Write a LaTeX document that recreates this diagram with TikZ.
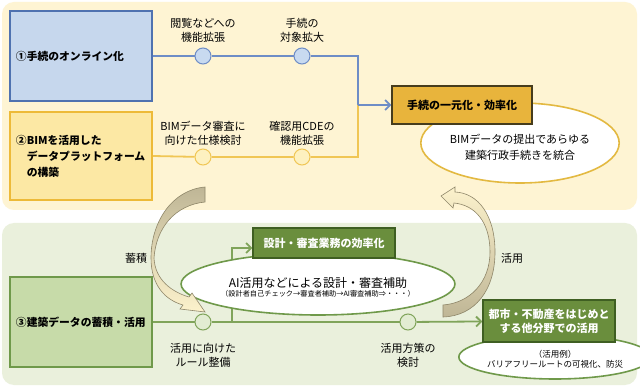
\documentclass[tikz,border=0pt]{standalone}
\usepackage{fontspec}
\setmainfont{Noto Sans CJK JP}
\usetikzlibrary{shapes.geometric,arrows.meta}
\pgfdeclarelayer{back}
\pgfdeclarelayer{wires}
\pgfsetlayers{back,wires,main}

\definecolor{panelY}{HTML}{FEF4D3}
\definecolor{panelG}{HTML}{EAF0DC}
\definecolor{bluefill}{HTML}{C6D7ED}
\definecolor{blueedge}{HTML}{4F72B0}
\definecolor{blueline}{HTML}{6E8DC6}
\definecolor{bluedot}{HTML}{C8DAF0}
\definecolor{yellowfill}{HTML}{FCE8A4}
\definecolor{yellowedge}{HTML}{EDBA38}
\definecolor{yellowline}{HTML}{F0C655}
\definecolor{yellowdot}{HTML}{FDF1C0}
\definecolor{gold}{HTML}{E8B43C}
\definecolor{goldedge}{HTML}{463C1C}
\definecolor{goldline}{HTML}{E3B941}
\definecolor{greenfill}{HTML}{C7DBA9}
\definecolor{greenedge}{HTML}{6F994A}
\definecolor{greenline}{HTML}{80A45A}
\definecolor{greendot}{HTML}{E2ECD2}
\definecolor{darkgreen}{HTML}{6A8E3D}
\definecolor{darkgreenedge}{HTML}{3F5F22}
\definecolor{arrowtan}{HTML}{BFB696}
\definecolor{arrowpale}{HTML}{FCF2CC}
\definecolor{arrowedge}{HTML}{8F876A}

\begin{document}
\begin{tikzpicture}[x=1pt,y=-1pt,
    stage/.style={draw,line width=1.6pt,text width=130pt,inner xsep=6pt,inner ysep=0pt,
      align=left,font=\fontsize{10.8}{16}\selectfont\bfseries},
    goal/.style={draw,line width=1.4pt,inner sep=0pt,align=center,
      font=\fontsize{11}{14}\selectfont\bfseries},
    bubble/.style={ellipse,draw,fill=white,line width=1.6pt,inner sep=0pt,align=center},
    dot/.style={circle,draw,line width=1pt,minimum size=16pt,inner sep=0pt},
    note/.style={align=center,font=\fontsize{11}{14}\selectfont},
    flow/.style={line width=1.8pt},
    swoosh/.style={draw=arrowedge,line width=0.6pt},
    >={Straight Barb[length=5pt,width=10pt]}]

    \useasboundingbox (0,0) rectangle (640,387);
    \begin{pgfonlayer}{back}
      \fill[white] (0,0) rectangle (640,387);
      \fill[panelY,rounded corners=12pt] (2,2) rectangle (637,210);
      \fill[panelG,rounded corners=12pt] (2,223) rectangle (637,385);
    \end{pgfonlayer}

    % upper part
    \node[stage,fill=bluefill,draw=blueedge,minimum height=90pt] (online) at (81,56) {①手続のオンライン化};
    \node[stage,fill=yellowfill,draw=yellowedge,minimum height=88pt] (platform) at (81,156)
      {②BIMを活用した\\\hspace*{1em}データプラットフォーム\\\hspace*{1em}の構築};

    \node[dot,fill=bluedot,draw=blueline] (view) at (203,56) {};
    \node[dot,fill=bluedot,draw=blueline] (target) at (302,56) {};
    \node[note] (viewlbl) at (203,30) {閲覧などへの\\機能拡張};
    \node[note] (targetlbl) at (302,30) {手続の\\対象拡大};

    \node[dot,fill=yellowdot,draw=yellowline] (spec) at (203,157) {};
    \node[dot,fill=yellowdot,draw=yellowline] (cde) at (302,157) {};
    \node[note] (speclbl) at (203,133) {BIMデータ審査に\\向けた仕様検討};
    \node[note] (cdelbl) at (302,133) {確認用CDEの\\機能拡張};

    \node[bubble,draw=goldline,minimum width=193pt,minimum height=80pt,
      font=\fontsize{11}{16}\selectfont] (merged) at (520,143)
      {\\[2pt]BIMデータの提出であらゆる\\建築行政手続きを統合};
    \node[goal,fill=gold,draw=goldedge,minimum width=140pt,minimum height=38pt] (unify) at (462,105)
      {手続の一元化・効率化};
    \coordinate (join) at (358,105);

    % lower part
    \node[stage,fill=greenfill,draw=greenedge,minimum height=90pt] (archive) at (81,322) {③建築データの蓄積・活用};

    \node[dot,fill=greendot,draw=greenline] (rule) at (203,322) {};
    \node[dot,fill=greendot,draw=greenline] (policy) at (408,322) {};
    \node[note] (rulelbl) at (203,355) {活用に向けた\\ルール整備};
    \node[note] (policylbl) at (408,355) {活用方策の\\検討};
    \coordinate (fork) at (232,322);

    \node[bubble,draw=greenedge,minimum width=236pt,minimum height=62pt] (assist) at (318,284)
      {\\[4pt]{\fontsize{12}{14}\selectfont AI活用などによる設計・審査補助}\\[-3pt]
       {\fontsize{7.2}{8}\selectfont （設計者自己チェック→審査者補助→AI審査補助⇒・・・）}};
    \node[goal,fill=darkgreen,draw=darkgreenedge,text=white,minimum width=142pt,minimum height=30pt] (review) at (324,243)
      {設計・審査業務の効率化};

    \node[bubble,draw=greenedge,minimum width=156pt,minimum height=44pt,
      font=\fontsize{8.5}{10}\selectfont] (usecase) at (555,357)
      {\\[1pt]（活用例）\\バリアフリールートの可視化、防災};
    \node[goal,fill=darkgreen,draw=darkgreenedge,text=white,minimum width=132pt,minimum height=42pt] (city) at (549,321)
      {都市・不動産をはじめと\\する他分野での活用};

    \begin{pgfonlayer}{wires}
      \draw[flow,blueline] (online.east) -- (view) -- (target) -| (join);
      \draw[flow,yellowline] (platform.east) -- (spec) -- (cde) -| (join);
      \draw[flow,blueline,->] (join) -- (unify);
      \draw[flow,greenline] (archive.east) -- (rule) -- (policy);
      \draw[flow,greenline,->] (policy) -- (city);
      \draw[flow,greenline,->] (fork) |- ([yshift=-5pt]review.west);
    \end{pgfonlayer}

    % curved arrows
    \shade[swoosh,top color=arrowtan,bottom color=arrowpale]
      (205,187) .. controls (172,190) and (151,222) .. (151,258)
      .. controls (151,285) and (165,300) .. (183,305)
      -- (180,309) -- (205,312) -- (192,293) -- (189,297)
      .. controls (172,292) and (155,280) .. (154,258)
      .. controls (156,228) and (175,205) .. (205,202) -- cycle;
    \node[note] (storelbl) at (136,258) {蓄積};

    \shade[swoosh,top color=arrowpale,bottom color=arrowtan]
      (443,317) .. controls (475,316) and (495,290) .. (495,252)
      .. controls (495,215) and (478,193) .. (455,192)
      -- (455,187) -- (441,196) -- (453,208) -- (454,203)
      .. controls (475,205) and (490,222) .. (490,252)
      .. controls (490,282) and (470,303) .. (443,305) -- cycle;
    \node[note] (uselbl) at (512,258) {活用};
\end{tikzpicture}
\end{document}
